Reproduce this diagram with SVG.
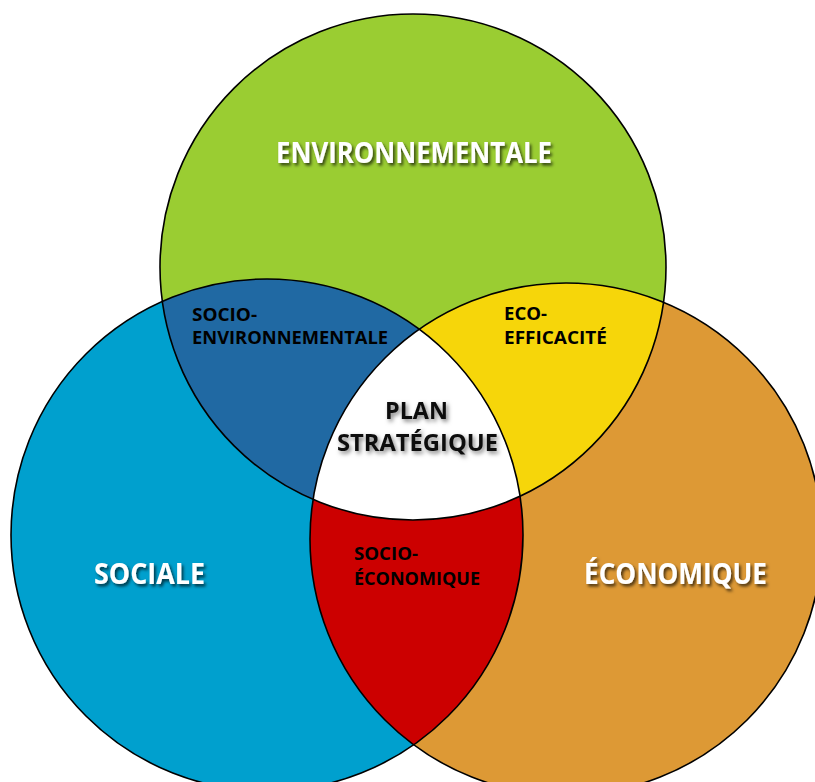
<svg xmlns="http://www.w3.org/2000/svg" width="815" height="782" viewBox="0 0 815 782">
  <style>
    .lbl { font-family: "Open Sans", "Liberation Sans", sans-serif; font-weight: 700; }
    .big { font-size: 28px; fill: #ffffff; filter: url(#shadow); }
    .mid { font-size: 23px; fill: #111111; filter: url(#shadowGray); }
    .small { font-size: 17px; fill: #000000; }
    .outline { fill: none; stroke: #000000; stroke-width: 1.6; }
  </style>
  <defs>
    <filter id="shadow" x="-10%" y="-30%" width="120%" height="160%">
      <feDropShadow dx="2" dy="2.5" stdDeviation="1.5" flood-color="#000000" flood-opacity="0.65"/>
    </filter>
    <filter id="shadowGray" x="-10%" y="-30%" width="120%" height="160%">
      <feDropShadow dx="2" dy="2.5" stdDeviation="2" flood-color="#000000" flood-opacity="0.5"/>
    </filter>
    <clipPath id="clipGreen"><circle cx="413" cy="267" r="253"/></clipPath>
    <clipPath id="clipBlue"><circle cx="267" cy="535" r="256"/></clipPath>
  </defs>
  <rect width="815" height="782" fill="#ffffff"/>

  <g id="node-sociale">
    <circle cx="267" cy="535" r="256" fill="#00A0CE"/>
  </g>
  <g id="node-economique">
    <circle cx="566" cy="539" r="256" fill="#DD9935"/>
  </g>
  <g id="node-environnementale">
    <circle cx="413" cy="267" r="253" fill="#9ACD32"/>
  </g>

  <g id="node-socio-environnementale" clip-path="url(#clipGreen)">
    <circle cx="267" cy="535" r="256" fill="#2069A3"/>
  </g>
  <g id="node-eco-efficacite" clip-path="url(#clipGreen)">
    <circle cx="566" cy="539" r="256" fill="#F6D60A"/>
  </g>
  <g id="node-socio-economique" clip-path="url(#clipBlue)">
    <circle cx="566" cy="539" r="256" fill="#CC0000"/>
  </g>
  <g id="node-plan-strategique" clip-path="url(#clipGreen)">
    <g clip-path="url(#clipBlue)">
      <circle cx="566" cy="539" r="256" fill="#ffffff"/>
    </g>
  </g>

  <g id="outlines">
    <circle class="outline" cx="413" cy="267" r="253"/>
    <circle class="outline" cx="267" cy="535" r="256"/>
    <circle class="outline" cx="566" cy="539" r="256"/>
  </g>

  <g id="labels" class="lbl">
    <text class="lbl big" x="276" y="163" textLength="276" lengthAdjust="spacingAndGlyphs">ENVIRONNEMENTALE</text>
    <text class="lbl big" x="94" y="584" textLength="111" lengthAdjust="spacingAndGlyphs">SOCIALE</text>
    <text class="lbl big" x="584" y="584" textLength="183" lengthAdjust="spacingAndGlyphs">ÉCONOMIQUE</text>

    <text class="lbl small" x="192" y="321" textLength="65" lengthAdjust="spacingAndGlyphs">SOCIO-</text>
    <text class="lbl small" x="192" y="344" textLength="196" lengthAdjust="spacingAndGlyphs">ENVIRONNEMENTALE</text>

    <text class="lbl small" x="504" y="320" textLength="43" lengthAdjust="spacingAndGlyphs">ECO-</text>
    <text class="lbl small" x="504" y="344" textLength="103" lengthAdjust="spacingAndGlyphs">EFFICACITÉ</text>

    <text class="lbl mid" x="385" y="419" textLength="63" lengthAdjust="spacingAndGlyphs">PLAN</text>
    <text class="lbl mid" x="337" y="451" textLength="161" lengthAdjust="spacingAndGlyphs">STRATÉGIQUE</text>

    <text class="lbl small" x="354" y="560" textLength="64" lengthAdjust="spacingAndGlyphs">SOCIO-</text>
    <text class="lbl small" x="354" y="585" textLength="126" lengthAdjust="spacingAndGlyphs">ÉCONOMIQUE</text>
  </g>
</svg>
